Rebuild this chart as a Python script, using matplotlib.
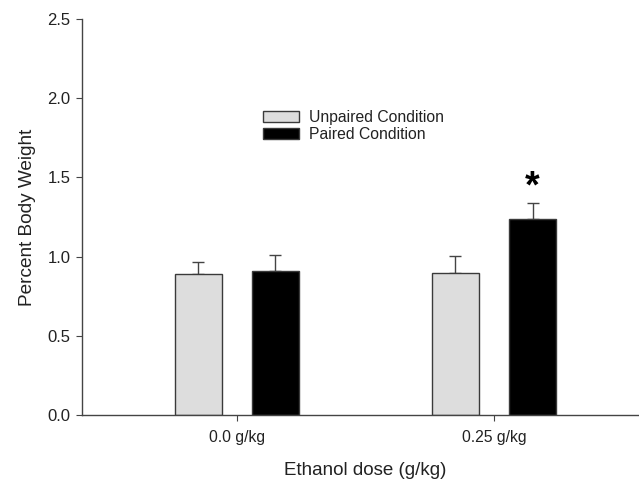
import numpy as np
import matplotlib
matplotlib.use('Agg')
import matplotlib.pyplot as plt

plt.rcParams['font.family'] = ['Liberation Sans', 'DejaVu Sans']

# data
doses = ['0.0 g/kg', '0.25 g/kg']
unpaired = [0.89, 0.895]
unpaired_err = [0.077, 0.11]
paired = [0.91, 1.24]
paired_err = [0.10, 0.10]

x = np.arange(len(doses))
width = 0.183
offset = 0.15
edge = '#3a3a3a'

fig = plt.figure(figsize=(6.39, 4.79), dpi=100)
ax = fig.add_axes([0.128, 0.1336, 0.872, 0.8264])

ax.bar(x - offset, unpaired, width, color='#dddddd', edgecolor=edge, linewidth=1.0,
       label='Unpaired Condition', zorder=2)
ax.bar(x + offset, paired, width, color='black', edgecolor=edge, linewidth=1.0,
       label='Paired Condition', zorder=2)

# upper error bars only
ax.errorbar(x - offset, unpaired, yerr=[np.zeros(2), unpaired_err], fmt='none',
            ecolor='#444444', elinewidth=1.0, capsize=4.3, capthick=1.0, zorder=1)
ax.errorbar(x + offset, paired, yerr=[np.zeros(2), paired_err], fmt='none',
            ecolor='#444444', elinewidth=1.0, capsize=4.3, capthick=1.0, zorder=1)

# significance marker
ax.text(x[1] + offset, paired[1] + paired_err[1] + 0.1, '*', ha='center', va='center',
        fontsize=27, fontweight='bold')

ax.set_xlim(-0.603, 1.564)
ax.set_ylim(0, 2.5)
ax.set_yticks([0.0, 0.5, 1.0, 1.5, 2.0, 2.5])
ax.set_yticklabels(['0.0', '0.5', '1.0', '1.5', '2.0', '2.5'])
ax.set_xticks(x)
ax.set_xticklabels(doses)

for s in ['top', 'right']:
    ax.spines[s].set_visible(False)
for s in ['left', 'bottom']:
    ax.spines[s].set_color('#444444')
    ax.spines[s].set_linewidth(1.0)
ax.tick_params(axis='both', colors='#444444', labelcolor='#222222',
               length=4, width=0.8)
ax.tick_params(axis='y', pad=4, labelsize=12)
ax.tick_params(axis='x', pad=7, labelsize=11.3)

ax.set_ylabel('Percent Body Weight', fontsize=13.7, color='#222222')
ax.set_xlabel('Ethanol dose (g/kg)', fontsize=13.5, color='#222222')
ax.yaxis.set_label_coords(-0.083, 0.5)
ax.xaxis.set_label_coords(0.509, -0.118)
ax.xaxis.label.set_va('top')

leg = ax.legend(loc='upper left', bbox_to_anchor=(263 / 639, 1 - 110 / 479),
                bbox_transform=fig.transFigure, frameon=False, fontsize=11.3,
                handlelength=2.3, handleheight=0.64, handletextpad=0.64,
                labelspacing=0.12, borderpad=0, borderaxespad=0)
for t in leg.get_texts():
    t.set_color('#222222')

fig.savefig('out.png', dpi=100)
